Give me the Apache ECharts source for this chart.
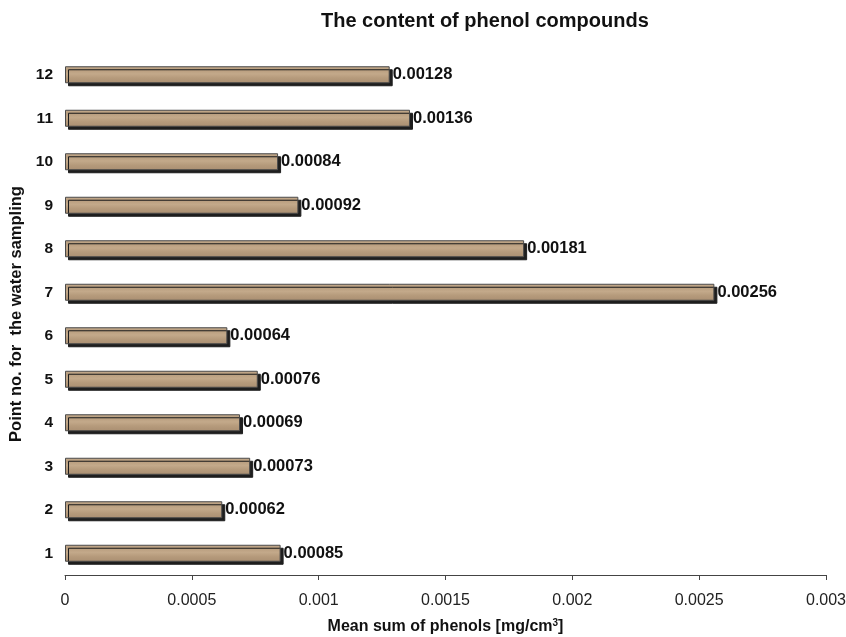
<!DOCTYPE html>
<html><head><meta charset="utf-8">
<script src="https://cdn.jsdelivr.net/npm/echarts@6/dist/echarts.min.js"></script>
<style>html,body{margin:0;padding:0;background:#fff}#c{width:846px;height:637px}</style>
</head><body><div id="c"></div>
<script>
const categories = ['1','2','3','4','5','6','7','8','9','10','11','12'];
const values = [0.00085,0.00062,0.00073,0.00069,0.00076,0.00064,0.00256,0.00181,0.00092,0.00084,0.00136,0.00128];
const labels = ['0.00085','0.00062','0.00073','0.00069','0.00076','0.00064','0.00256','0.00181','0.00092','0.00084','0.00136','0.00128'];
const xTicks = ['0','0.0005','0.001','0.0015','0.002','0.0025','0.003'];

const chart = echarts.init(document.getElementById('c'));
const font = 'Liberation Sans, Arial, sans-serif';
const wood = new echarts.graphic.LinearGradient(0,0,0,1,[
  {offset:0,color:'#c6ad8f'},
  {offset:0.2,color:'#b89d7e'},
  {offset:0.45,color:'#c3a98a'},
  {offset:0.7,color:'#b59a7b'},
  {offset:1,color:'#aa8f72'}
]);
chart.setOption({
  animation:false,
  title:{text:'The content of phenol compounds',left:316,top:6,
    textStyle:{fontFamily:font,fontSize:20,fontWeight:'bold',color:'#111'}},
  grid:{left:65,right:20,top:53,bottom:62,containLabel:false,outerBoundsMode:'none'},
  xAxis:{type:'value',min:0,max:0.003,interval:0.0005,
    name:'Mean sum of phenols [mg/cm{sup|3}]',nameLocation:'middle',nameGap:43,
    nameTextStyle:{fontFamily:font,fontSize:16,fontWeight:'bold',color:'#111',
      rich:{sup:{fontSize:10,fontWeight:'bold',verticalAlign:'top',padding:[0,0,7,0],fontFamily:font,color:'#111'}}},
    axisLine:{show:true,lineStyle:{color:'#444',width:1}},
    axisTick:{show:true,length:5,lineStyle:{color:'#444'}},
    splitLine:{show:false},
    axisLabel:{fontFamily:font,fontSize:16,color:'#222',margin:18,
      formatter:function(v){const i=Math.round(v/0.0005);return xTicks[i]!==undefined?xTicks[i]:'';}}
  },
  yAxis:{type:'category',data:categories,
    name:'Point no. for  the water sampling',nameLocation:'middle',nameGap:39,nameRotate:90,
    nameTextStyle:{fontFamily:font,fontSize:16.5,fontWeight:'bold',color:'#111'},
    axisLine:{show:false},axisTick:{show:false},
    axisLabel:{fontFamily:font,fontSize:15.5,fontWeight:'bold',color:'#111',margin:12}
  },
  series:[{type:'bar',data:values,barWidth:17,
    itemStyle:{color:wood,borderColor:'#4a4a4a',borderWidth:1,
      shadowColor:'#1e1e1e',shadowOffsetX:3,shadowOffsetY:3,shadowBlur:0},
    label:{show:true,position:'right',distance:3,
      formatter:function(p){return labels[p.dataIndex];},
      fontFamily:font,fontSize:16.5,fontWeight:'bold',color:'#111'}
  }]
});
</script></body></html>
